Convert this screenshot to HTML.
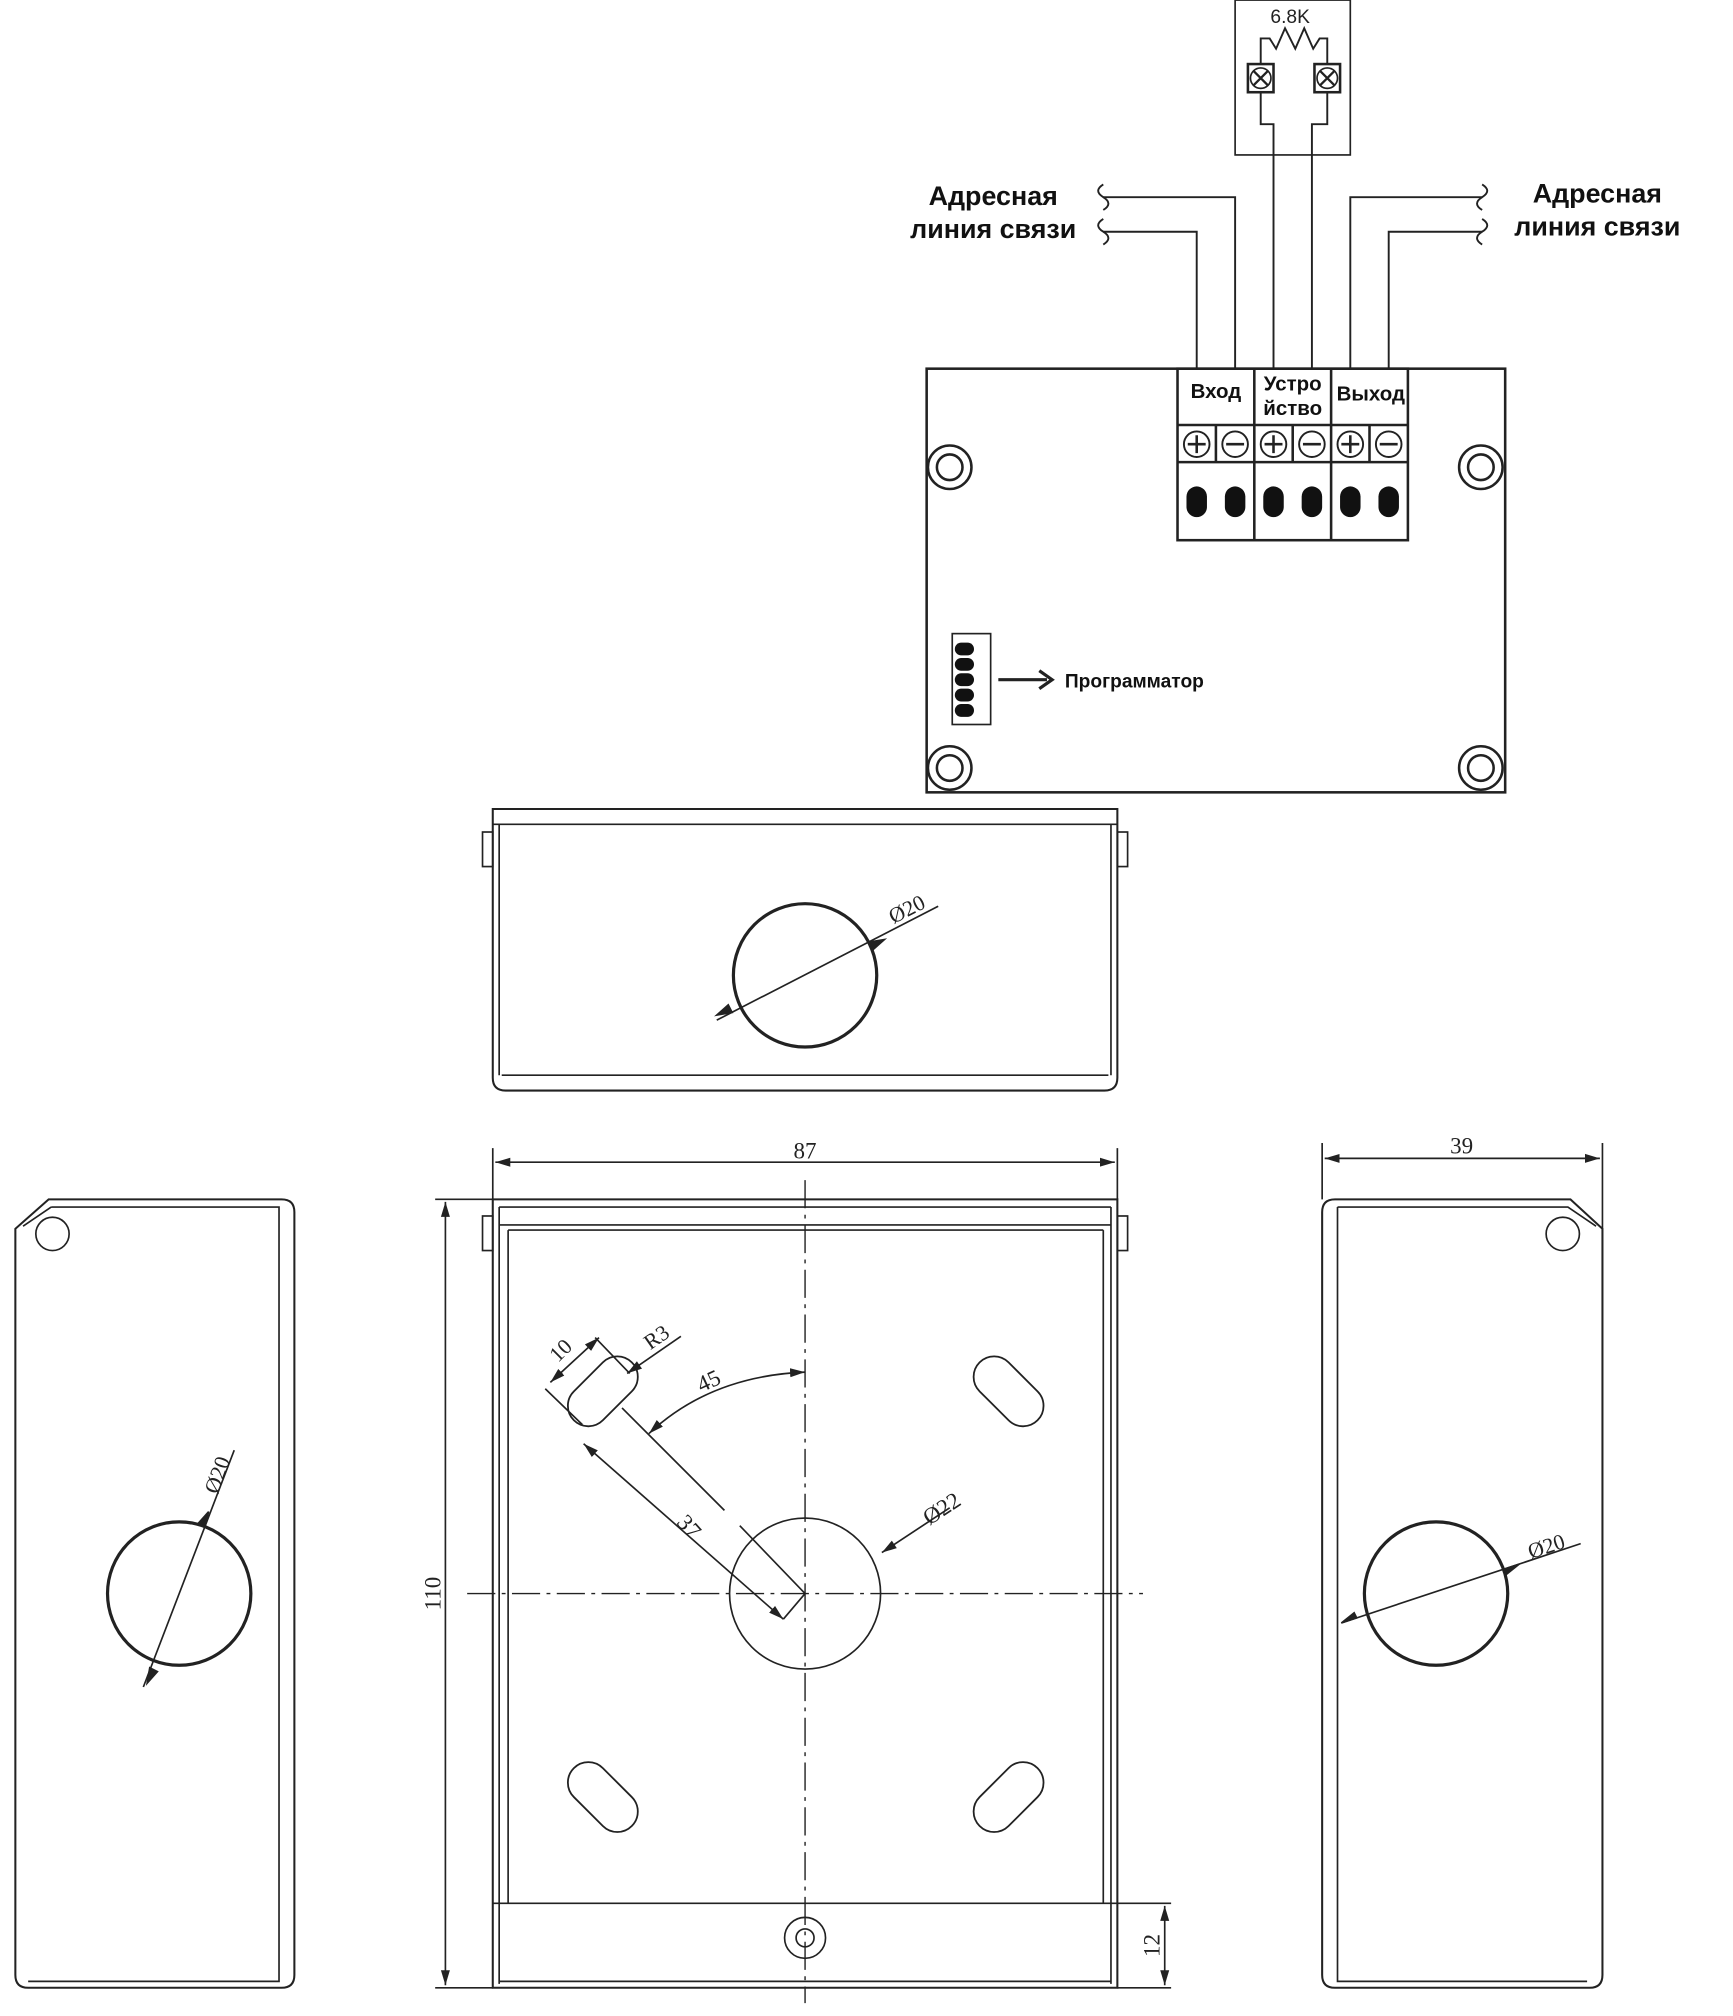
<!DOCTYPE html>
<html><head><meta charset="utf-8"><style>
html,body{margin:0;padding:0;background:#fff}
svg{display:block}
.s{font-family:"Liberation Sans","DejaVu Sans",sans-serif}
.r{font-family:"Liberation Serif","DejaVu Serif",serif}
</style></head><body>
<svg width="1733" height="2016" viewBox="0 0 1354 1575" xmlns="http://www.w3.org/2000/svg" fill="none" stroke="#222" stroke-width="1.3">
<defs>
<marker id="a" viewBox="0 0 10 10" refX="10" refY="5" markerWidth="9" markerHeight="9" orient="auto-start-reverse"><path d="M0,2 L10,5 L0,8 z" fill="#222" stroke="none"/></marker>
</defs>
<!-- resistor box -->
<rect x="965" y="0" width="90" height="121"/>
<text x="1008" y="18" class="s" font-size="15" fill="#222" stroke="none" text-anchor="middle">6.8K</text>
<polyline points="985,50 985,30 992,30 997,38 1004,22 1012,38 1019,22 1026,38 1031,30 1037,30 1037,50" stroke-width="1.5"/>
<g stroke-width="2"><rect x="975" y="50" width="20" height="22"/><rect x="1027" y="50" width="20" height="22"/></g>
<g><circle cx="985" cy="61" r="8"/><circle cx="1037" cy="61" r="8"/>
<path d="M979,55 L991,67 M991,55 L979,67 M1031,55 L1043,67 M1043,55 L1031,67" stroke-width="1.8"/></g>
<polyline points="985,72 985,97 995,97 995,288" stroke-width="1.5"/>
<polyline points="1037,72 1037,97 1025,97 1025,288" stroke-width="1.5"/>
<!-- line wires -->
<g stroke-width="1.5">
<polyline points="965,288 965,154 862,154"/>
<polyline points="935,288 935,181 862,181"/>
<polyline points="1055,288 1055,154 1158,154"/>
<polyline points="1085,288 1085,181 1158,181"/>
<path d="M862,144 q-8,5 0,10 q8,5 0,10 M862,171 q-8,5 0,10 q8,5 0,10 M1158,144 q8,5 0,10 q-8,5 0,10 M1158,171 q8,5 0,10 q-8,5 0,10"/>
</g>
<g class="s" font-weight="bold" font-size="21" fill="#111" stroke="none" text-anchor="middle">
<text x="776" y="160">Адресная</text><text x="776" y="186">линия связи</text>
<text x="1248" y="158">Адресная</text><text x="1248" y="184">линия связи</text>
</g>
<!-- main board -->
<rect x="724" y="288" width="452" height="331" stroke-width="2"/>
<g stroke-width="2"><rect x="920" y="288" width="180" height="134"/>
<path d="M980,288 V422 M1040,288 V422 M920,332 H1100 M920,361 H1100 M950,332 V361 M1010,332 V361 M1070,332 V361"/></g>
<g class="s" font-weight="bold" font-size="16" fill="#111" stroke="none" text-anchor="middle">
<text x="950" y="311">Вход</text><text x="1010" y="305">Устро</text><text x="1010" y="324">йство</text><text x="1071" y="313">Выход</text>
</g>
<g stroke-width="1.5">
<circle cx="935" cy="347" r="10"/><circle cx="965" cy="347" r="10"/><circle cx="995" cy="347" r="10"/><circle cx="1025" cy="347" r="10"/><circle cx="1055" cy="347" r="10"/><circle cx="1085" cy="347" r="10"/>
<path d="M928,347 H942 M935,340 V354 M958,347 H972 M988,347 H1002 M995,340 V354 M1018,347 H1032 M1048,347 H1062 M1055,340 V354 M1078,347 H1092" stroke-width="2"/>
</g>
<g fill="#111" stroke="none">
<rect x="927" y="380" width="16" height="24" rx="8"/><rect x="957" y="380" width="16" height="24" rx="8"/><rect x="987" y="380" width="16" height="24" rx="8"/><rect x="1017" y="380" width="16" height="24" rx="8"/><rect x="1047" y="380" width="16" height="24" rx="8"/><rect x="1077" y="380" width="16" height="24" rx="8"/>
</g>
<g stroke-width="2">
<circle cx="742" cy="365" r="17"/><circle cx="742" cy="365" r="10"/>
<circle cx="1157" cy="365" r="17"/><circle cx="1157" cy="365" r="10"/>
<circle cx="742" cy="600" r="17"/><circle cx="742" cy="600" r="10"/>
<circle cx="1157" cy="600" r="17"/><circle cx="1157" cy="600" r="10"/>
</g>
<rect x="744" y="495" width="30" height="71"/>
<g fill="#111" stroke="none">
<rect x="746" y="502" width="15" height="10" rx="5"/><rect x="746" y="514" width="15" height="10" rx="5"/><rect x="746" y="526" width="15" height="10" rx="5"/><rect x="746" y="538" width="15" height="10" rx="5"/><rect x="746" y="550" width="15" height="10" rx="5"/>
</g>
<path d="M780,531 H818" stroke-width="2.5"/><path d="M812,524 L822,531 L812,538" stroke-width="2.5"/>
<text x="832" y="537" class="s" font-weight="bold" font-size="15" fill="#111" stroke="none">Программатор</text>

<!-- top view -->
<path d="M385,632 H873 V842 Q873,852 863,852 H395 Q385,852 385,842 Z" stroke-width="1.6"/>
<path d="M385,644 H873 M390,644 V840 M868,644 V840 M392,840 H866"/>
<rect x="377" y="650" width="8" height="27"/><rect x="873" y="650" width="8" height="27"/>
<circle cx="629" cy="762" r="56" stroke-width="2.5"/>
<line x1="560" y1="797" x2="733" y2="708"/>
<path d="M572,791 l-12,2 l9,-8z M679,736 l12,-2 l-9,8z" fill="#222"/>
<text x="0" y="0" class="r" font-size="17" fill="#222" stroke="none" transform="translate(698,722) rotate(-27)">Ø20</text>

<!-- front view -->
<path d="M385,937 H873 V1553 H385 Z" stroke-width="1.6"/>
<path d="M390,943 H868 M390,957 H868 M397,961 H862 M390,943 V1550 M868,943 V1550 M397,961 V1487 M862,961 V1487 M385,1487 H873 M390,1548 H868"/>
<rect x="377" y="950" width="8" height="27"/><rect x="873" y="950" width="8" height="27"/>
<line x1="629" y1="922" x2="629" y2="1565" stroke-dasharray="22,5,3,5" stroke-width="1.1"/>
<line x1="365" y1="1245" x2="893" y2="1245" stroke-dasharray="22,5,3,5" stroke-width="1.1"/>
<circle cx="629" cy="1245" r="59"/>
<g stroke-width="1.4">
<rect x="439" y="1071" width="64" height="32" rx="16" transform="rotate(-45 471 1087)"/>
<rect x="756" y="1071" width="64" height="32" rx="16" transform="rotate(45 788 1087)"/>
<rect x="439" y="1388" width="64" height="32" rx="16" transform="rotate(45 471 1404)"/>
<rect x="756" y="1388" width="64" height="32" rx="16" transform="rotate(-45 788 1404)"/>
</g>
<circle cx="629" cy="1514" r="16"/><circle cx="629" cy="1514" r="7"/>
<!-- dims front -->
<path d="M385,897 V937 M873,897 V937 M1033,893 V937 M1252,893 V960"/>
<line x1="387" y1="908" x2="871" y2="908" marker-start="url(#a)" marker-end="url(#a)"/>
<text x="629" y="905" class="r" font-size="18" fill="#222" stroke="none" text-anchor="middle">87</text>
<path d="M340,937 H385 M340,1553 H385 M873,1487 H915 M873,1553 H915"/>
<line x1="348" y1="939" x2="348" y2="1551" marker-start="url(#a)" marker-end="url(#a)"/>
<text class="r" font-size="18" fill="#222" stroke="none" text-anchor="middle" transform="translate(344,1245) rotate(-90)">110</text>
<line x1="910" y1="1489" x2="910" y2="1551" marker-start="url(#a)" marker-end="url(#a)"/>
<text class="r" font-size="18" fill="#222" stroke="none" text-anchor="middle" transform="translate(906,1520) rotate(-90)">12</text>
<line x1="689" y1="1213" x2="742" y2="1178" marker-start="url(#a)"/>
<text class="r" font-size="18" fill="#222" stroke="none" transform="translate(726,1192) rotate(-33)">Ø22</text>
<path d="M507,1120 Q555,1075 629,1072" marker-start="url(#a)" marker-end="url(#a)"/>
<text class="r" font-size="18" fill="#222" stroke="none" transform="translate(548,1088) rotate(-25)">45</text>
<path d="M486,1100 L566,1180 M578,1192 L629,1245"/>
<line x1="456" y1="1128" x2="612" y2="1265" marker-start="url(#a)" marker-end="url(#a)"/>
<path d="M612,1265 L629,1245"/>
<text class="r" font-size="18" fill="#222" stroke="none" transform="translate(528,1190) rotate(48)">37</text>
<path d="M426,1085 L455,1113 M465,1045 L492,1073"/>
<line x1="430" y1="1080" x2="468" y2="1045" marker-start="url(#a)" marker-end="url(#a)"/>
<text class="r" font-size="17" fill="#222" stroke="none" transform="translate(436,1065) rotate(-45)">10</text>
<line x1="532" y1="1044" x2="490" y2="1073" marker-end="url(#a)"/>
<text class="r" font-size="17" fill="#222" stroke="none" transform="translate(508,1055) rotate(-35)">R3</text>

<!-- left side -->
<path d="M38,937 H220 Q230,937 230,947 V1543 Q230,1553 220,1553 H22 Q12,1553 12,1543 V960 Z" stroke-width="1.6"/>
<path d="M40,943 H218 V1548 H22 M18,958 L40,943"/>
<circle cx="41" cy="964" r="13"/>
<circle cx="140" cy="1245" r="56" stroke-width="2.5"/>
<line x1="112" y1="1318" x2="183" y2="1133"/>
<path d="M117,1303 l-2,12 l8,-9z M160,1193 l3,-12 l-8,9z" fill="#222"/>
<text class="r" font-size="17" fill="#222" stroke="none" transform="translate(170,1168) rotate(-70)">Ø20</text>

<!-- right side -->
<path d="M1043,937 H1227 L1252,960 V1543 Q1252,1553 1242,1553 H1043 Q1033,1553 1033,1543 V947 Q1033,937 1043,937 Z" stroke-width="1.6"/>
<path d="M1045,943 H1225 L1247,958 M1045,943 V1548 H1240"/>
<circle cx="1221" cy="964" r="13"/>
<circle cx="1122" cy="1245" r="56" stroke-width="2.5"/>
<line x1="1048" y1="1268" x2="1235" y2="1206"/>
<path d="M1060,1264 l-12,4 l10,-8z M1175,1226 l12,-4 l-10,8z" fill="#222"/>
<text class="r" font-size="17" fill="#222" stroke="none" transform="translate(1196,1218) rotate(-18)">Ø20</text>
<line x1="1035" y1="905" x2="1250" y2="905" marker-start="url(#a)" marker-end="url(#a)"/>
<text x="1142" y="901" class="r" font-size="18" fill="#222" stroke="none" text-anchor="middle">39</text>
</svg>
</body></html>
